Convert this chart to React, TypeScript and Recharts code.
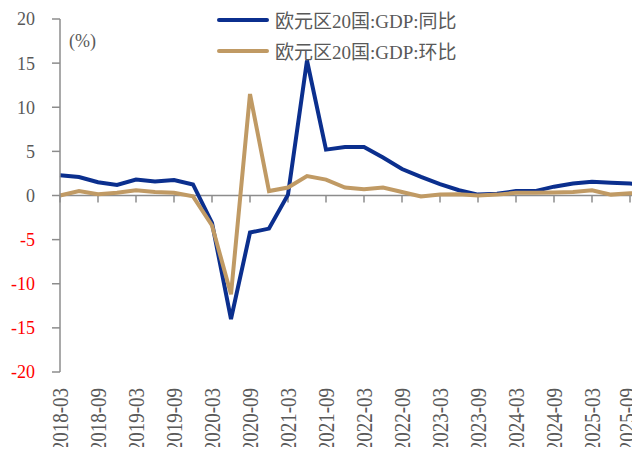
import { LineChart, Line, XAxis, YAxis, ReferenceLine } from "recharts";

// quarters (last one sits just past the visible edge in the original)
const quarters = [
  "2018-03", "2018-06", "2018-09", "2018-12",
  "2019-03", "2019-06", "2019-09", "2019-12",
  "2020-03", "2020-06", "2020-09", "2020-12",
  "2021-03", "2021-06", "2021-09", "2021-12",
  "2022-03", "2022-06", "2022-09", "2022-12",
  "2023-03", "2023-06", "2023-09", "2023-12",
  "2024-03", "2024-06", "2024-09", "2024-12",
  "2025-03", "2025-06", "2025-09", "2025-12",
];

// 同比
const yoy = [
  2.3, 2.1, 1.5, 1.2, 1.8, 1.6, 1.75, 1.25,
  -3.1, -14.0, -4.2, -3.75, 0.1, 15.3, 5.2, 5.5,
  5.5, 4.3, 3.0, 2.1, 1.3, 0.6, 0.1, 0.2,
  0.5, 0.5, 1.0, 1.35, 1.55, 1.45, 1.35, 1.25,
];

// 环比
const qoq = [
  0.0, 0.5, 0.15, 0.3, 0.6, 0.4, 0.3, -0.1,
  -3.4, -11.2, 11.5, 0.5, 0.9, 2.2, 1.8, 0.9,
  0.7, 0.9, 0.4, -0.1, 0.1, 0.15, 0.0, 0.1,
  0.3, 0.3, 0.35, 0.4, 0.6, 0.1, 0.25, 0.25,
];

const yTicks = [-20, -15, -10, -5, 0, 5, 10, 15, 20];
const seriesKeys = ["yoy", "qoq"];
const seriesNames = ["欧元区20国:GDP:同比", "欧元区20国:GDP:环比"];
const seriesColors = ["#0B2F8E", "#C09A64"];

const data = quarters.map((q, i) => ({ q, yoy: yoy[i], qoq: qoq[i] }));

const FONT = "'Liberation Serif', 'Noto Sans CJK SC', serif";
const AXIS = "#8c8c8c";
const TEXT = "#595959";

function YTick(props: any) {
  const { x, y, payload } = props;
  return (
    <text x={x} y={y} dy="0.355em" textAnchor="end" fontSize={18} fontFamily={FONT}
      fill={payload.value < 0 ? "#FF0000" : TEXT}>
      {payload.value}
    </text>
  );
}

function XTick(props: any) {
  const { x, y, payload } = props;
  // keep the right-most label inside the visible frame
  const cx = Math.min(x, 627);
  return (
    <g transform={`translate(${cx},${y + 16})`}>
      <text transform="rotate(-90) scale(1,1.2)" textAnchor="end" dy="0.35em"
        fontSize={19} fontFamily={FONT} fill={TEXT}>
        {payload.value}
      </text>
    </g>
  );
}

export default function App() {
  return (
    <div style={{ position: "relative", width: 640, height: 455, overflow: "hidden", margin: -8, background: "#fff" }}>
      <LineChart width={660} height={455} data={data} margin={{ top: 19, right: 11, left: 0, bottom: 0 }}>
        <XAxis dataKey="q" interval={1} height={83} axisLine={false} tickLine={false}
          tickSize={0} tickMargin={0} tick={<XTick />} />
        <YAxis domain={[-20, 20]} ticks={yTicks} width={60} interval={0}
          stroke={AXIS} strokeWidth={1.5} tickSize={8} tickMargin={17}
          tickLine={{ stroke: AXIS, strokeWidth: 1.5 }} tick={<YTick />}
          label={{
            value: "(%)",
            content: ({ viewBox }: any) => (
              <text x={viewBox.x + viewBox.width + 9} y={viewBox.y + 22} dy="0.355em"
                fontSize={18} fontFamily={FONT} fill={TEXT}>(%)</text>
            ),
          }} />
        <ReferenceLine y={0} stroke={AXIS} strokeWidth={1.5} />
        {quarters.filter((_, i) => i % 2 === 0).map((q) => (
          <ReferenceLine key={q} segment={[{ x: q, y: 0 }, { x: q, y: -0.8 }]}
            stroke={AXIS} strokeWidth={1.5} />
        ))}
        {seriesKeys.map((k, i) => (
          <Line key={k} type="linear" dataKey={k} name={seriesNames[i]} stroke={seriesColors[i]}
            strokeWidth={4} dot={false} activeDot={false} isAnimationActive={false} />
        ))}
      </LineChart>
      <div style={{ position: "absolute", left: 217, top: 4, fontFamily: FONT, fontSize: 19, color: TEXT }}>
        {seriesNames.map((n, i) => (
          <div key={n} style={{ display: "flex", alignItems: "center", height: 31 }}>
            <span style={{ display: "inline-block", width: 52, height: 4, borderRadius: 2, background: seriesColors[i], marginRight: 6 }} />
            {n}
          </div>
        ))}
      </div>
    </div>
  );
}
